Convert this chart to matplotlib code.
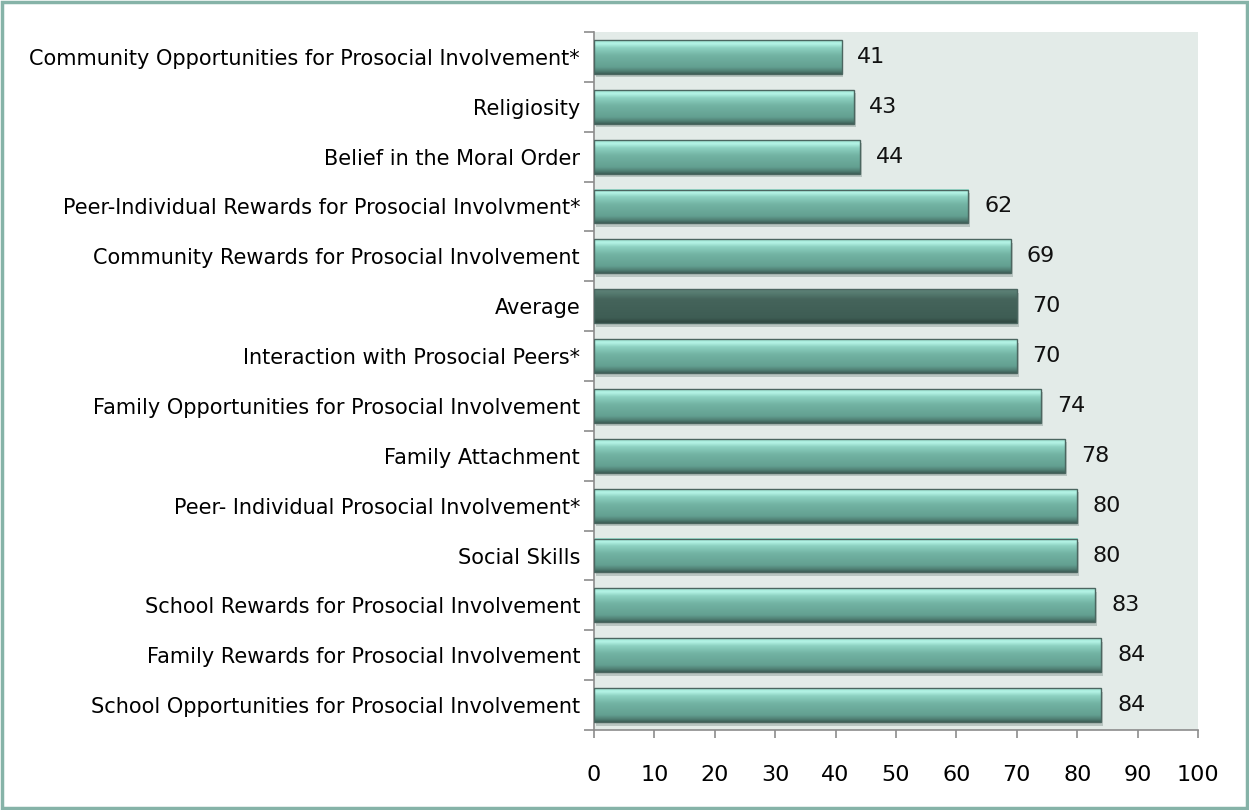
import matplotlib.pyplot as plt
import numpy as np
from matplotlib.colors import LinearSegmentedColormap
from matplotlib.patches import Rectangle

categories = [
    "Community Opportunities for Prosocial Involvement*",
    "Religiosity",
    "Belief in the Moral Order",
    "Peer-Individual Rewards for Prosocial Involvment*",
    "Community Rewards for Prosocial Involvement",
    "Average",
    "Interaction with Prosocial Peers*",
    "Family Opportunities for Prosocial Involvement",
    "Family Attachment",
    "Peer- Individual Prosocial Involvement*",
    "Social Skills",
    "School Rewards for Prosocial Involvement",
    "Family Rewards for Prosocial Involvement",
    "School Opportunities for Prosocial Involvement",
]
values = [41, 43, 44, 62, 69, 70, 70, 74, 78, 80, 80, 83, 84, 84]
x_ticks = list(range(0, 101, 10))

plt.rcParams['font.family'] = ['DejaVu Sans']

fig = plt.figure(figsize=(12.49, 8.10), dpi=100)
ax = fig.add_axes([594 / 1249, 1 - 730 / 810, 604 / 1249, 698 / 810])
ax.set_facecolor('#e3ebe8')

# bevelled look: light rim on top, teal body, darker lower edge
teal = LinearSegmentedColormap.from_list('teal', [
    (0.00, '#9fe3d3'), (0.10, '#b4f4e6'), (0.22, '#8ed2c2'),
    (0.45, '#72b3a3'), (0.80, '#63a091'), (0.92, '#507f74'), (1.00, '#3d5f57')])
dark = LinearSegmentedColormap.from_list('dark', [
    (0.00, '#5f8278'), (0.12, '#557a6f'), (0.30, '#45645b'),
    (0.85, '#3e5d54'), (1.00, '#2f4740')])

h = 0.68
grad = np.linspace(0, 1, 64).reshape(-1, 1)
y = np.arange(len(categories))
for i, (cat, v) in enumerate(zip(categories, values)):
    cmap = dark if cat == "Average" else teal
    # soft shadow below each bar
    ax.add_patch(Rectangle((0.3, y[i] - h / 2 + 0.07), v, h, facecolor='#98a6a2',
                           edgecolor='none', alpha=0.55, zorder=1))
    ax.imshow(grad, cmap=cmap, aspect='auto', origin='upper',
              extent=[0, v, y[i] + h / 2, y[i] - h / 2], zorder=2)
    ax.add_patch(Rectangle((0, y[i] - h / 2), v, h, facecolor='none',
                           edgecolor='#4b6660', linewidth=1.0, zorder=3))
    ax.text(v + 2.6, y[i], str(v), va='center', ha='left', fontsize=16,
            color='#111111', zorder=4)

ax.set_xlim(0, 100)
ax.set_ylim(len(categories) - 0.5, -0.5)
ax.set_xticks(x_ticks)
ax.set_xticklabels([str(t) for t in x_ticks], fontsize=16)
ax.set_yticks(y)
ax.set_yticklabels(categories, fontsize=15)
ax.set_yticks(np.arange(len(categories) + 1) - 0.5, minor=True)

ax.tick_params(axis='y', which='major', length=0, pad=10)
ax.tick_params(axis='y', which='minor', length=7, color='#8c8c8c', width=1.2)
ax.tick_params(axis='x', length=6, color='#8c8c8c', width=1.2, pad=19)

for side in ('top', 'right'):
    ax.spines[side].set_visible(False)
for side in ('left', 'bottom'):
    ax.spines[side].set_color('#8c8c8c')
    ax.spines[side].set_linewidth(1.2)

# outer frame of the chart
fig.patches.append(Rectangle((0.0015, 0.002), 0.997, 0.996, transform=fig.transFigure,
                             facecolor='none', edgecolor='#86b3a8', linewidth=2.5))

fig.savefig('out.png', dpi=100)
